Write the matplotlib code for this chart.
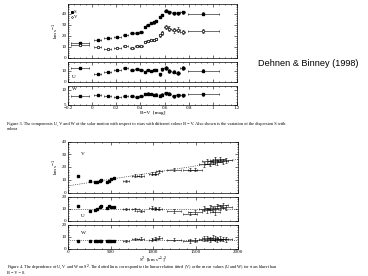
import numpy as np
import matplotlib.pyplot as plt
from matplotlib.ticker import MultipleLocator, FuncFormatter

plt.rcParams['font.family'] = ['Liberation Serif', 'DejaVu Serif']

# Figure 3 data: colour bins
bv = [-0.1, 0.045, 0.128, 0.21, 0.275, 0.33, 0.37, 0.405, 0.44, 0.46, 0.49,
      0.51, 0.53, 0.56, 0.58, 0.61, 0.64, 0.675, 0.71, 0.75, 0.92]
bv_err = [0.075, 0.03, 0.03, 0.025, 0.02, 0.02, 0.015, 0.015, 0.01, 0.01, 0.01,
          0.01, 0.01, 0.01, 0.01, 0.015, 0.015, 0.015, 0.015, 0.02, 0.13]
S = [13.3, 15.8, 17.9, 18.8, 20.3, 22.4, 22.7, 23.3, 27.9, 29.7, 31.8,
     32.1, 33.3, 37.0, 39.0, 43.0, 41.5, 40.6, 40.6, 41.5, 40.0]
V = [11.0, 9.7, 7.9, 9.1, 10.3, 8.8, 10.3, 10.9, 14.2, 15.2, 15.8,
     16.4, 17.3, 20.3, 22.4, 27.9, 26.4, 24.8, 25.5, 23.3, 24.2]
U = [12.3, 7.4, 8.4, 10.6, 12.3, 10.6, 11.6, 10.6, 9.0, 10.6, 10.0,
     10.6, 10.6, 6.8, 11.3, 12.3, 9.7, 9.0, 8.1, 12.3, 10.0]
W = [8.0, 8.1, 7.8, 7.7, 7.9, 7.8, 7.7, 7.9, 8.5, 8.7, 8.5,
     8.2, 8.4, 8.0, 8.4, 8.9, 8.7, 7.9, 8.1, 8.2, 8.5]
S_err = [1.0, 0.8, 0.8, 0.8, 0.8, 0.9, 0.9, 1.0, 1.0, 1.0, 1.0,
         1.0, 1.0, 1.2, 1.2, 1.5, 1.5, 1.5, 1.5, 1.5, 1.5]
V_err = [0.8, 0.8, 0.8, 0.8, 0.8, 0.9, 0.9, 1.0, 1.0, 1.0, 1.0,
         1.0, 1.0, 1.2, 1.5, 2.0, 2.0, 2.0, 2.0, 2.0, 2.0]
U_err = [0.6, 0.6, 0.6, 0.8, 0.8, 0.8, 0.8, 0.9, 1.0, 1.0, 1.0,
         1.0, 1.0, 1.5, 1.5, 2.0, 1.5, 1.5, 1.8, 1.8, 1.5]
W_err = [0.3, 0.3, 0.3, 0.3, 0.3, 0.3, 0.3, 0.3, 0.4, 0.4, 0.4,
         0.4, 0.4, 0.5, 0.5, 0.5, 0.5, 0.5, 0.5, 0.5, 0.5]

# Figure 4 data: dispersion squared bins
s2 = [113, 256, 314, 345, 372, 392, 461, 481, 508, 539, 682, 791, 857, 992,
      1023, 1070, 1244, 1438, 1497, 1600, 1632, 1671, 1709, 1728, 1748, 1787, 1826, 1864]
s2_err = [0, 10, 10, 10, 10, 10, 10, 10, 10, 10, 40, 40, 40, 40,
          40, 40, 80, 80, 80, 60, 60, 60, 60, 60, 60, 60, 60, 60]
V4 = [13.3, 8.9, 8.1, 8.4, 8.9, 9.7, 8.4, 9.2, 10.2, 11.5, 8.9, 13.3, 13.3, 14.7,
      14.9, 16.5, 18.0, 18.0, 18.0, 22.0, 24.5, 22.7, 24.5, 25.5, 23.8, 25.9, 24.5, 25.3]
U4 = [11.9, 7.8, 8.6, 9.7, 11.1, 12.5, 10.6, 11.9, 11.1, 11.1, 9.7, 9.2, 7.8, 10.6,
      10.0, 10.0, 7.8, 5.8, 7.0, 9.9, 8.4, 10.7, 9.3, 7.0, 12.1, 10.7, 12.7, 11.0]
W4 = [7.0, 6.8, 6.6, 6.7, 6.8, 6.9, 6.7, 7.0, 6.8, 6.6, 6.5, 8.5, 8.7, 7.9,
      8.7, 9.3, 7.9, 6.5, 7.3, 8.5, 9.0, 7.9, 9.3, 8.5, 7.9, 8.7, 8.4, 8.0]
err4 = [0, 0.7, 0.7, 0.7, 0.7, 0.7, 0.7, 0.7, 0.7, 0.7, 1.0, 1.0, 1.0, 1.2,
        1.2, 1.2, 1.5, 1.5, 1.5, 2.0, 2.0, 2.0, 2.0, 2.0, 2.0, 2.0, 2.0, 2.0]
fit_x = [0, 2000]
fit_v = [5.2, 26.0]
mean_u = 10.0
mean_w = 7.2

W_PX, H_PX = 368, 276
fig = plt.figure(figsize=(3.68, 2.76), dpi=100)


def box(x0, x1, ytop, ybot):
    # pixel box -> figure axes
    return fig.add_axes([x0 / W_PX, 1 - ybot / H_PX, (x1 - x0) / W_PX, (ybot - ytop) / H_PX])


def style_ax(ax, ymaj, ymin, show_x=False):
    for s in ax.spines.values():
        s.set_linewidth(0.5)
    ax.tick_params(which='both', direction='in', top=True, right=True,
                   width=0.4, labelsize=3.6, pad=1)
    ax.tick_params(which='major', length=2)
    ax.tick_params(which='minor', length=1)
    ax.yaxis.set_major_locator(MultipleLocator(ymaj))
    ax.yaxis.set_minor_locator(MultipleLocator(ymin))
    if not show_x:
        ax.tick_params(labelbottom=False)


def bv_fmt(v, pos):
    if abs(v) < 1e-9:
        return '0'
    if abs(v - 1) < 1e-9:
        return '1'
    return ('%.1f' % v).replace('-', '\u2212')


eb = dict(fmt='none', ecolor='k', elinewidth=0.4, capsize=0.8, capthick=0.4)

# ---- Figure 3 ----
x0, x1 = 68, 237
a1 = box(x0, x1, 4, 57.5)
a2 = box(x0, x1, 61.5, 81.5)
a3 = box(x0, x1, 86, 105)
for ax in (a1, a2, a3):
    ax.set_xlim(-0.2, 1.2)
    ax.xaxis.set_major_locator(MultipleLocator(0.2))
    ax.xaxis.set_minor_locator(MultipleLocator(0.05))

a1.errorbar(bv, S, xerr=bv_err, yerr=S_err, **eb)
a1.plot(bv, S, 's', ms=1.8, color='k')
a1.errorbar(bv, V, xerr=bv_err, yerr=V_err, **eb)
a1.plot(bv, V, 'o', ms=1.8, mfc='white', mec='k', mew=0.5)
a1.set_ylim(0, 49)
style_ax(a1, 10, 2)
a1.set_ylabel('km s$^{-1}$', fontsize=3.6, labelpad=1)
a1.plot(-0.17, 41.5, 's', ms=1.2, color='k')
a1.text(-0.15, 41.5, 'S', fontsize=3.4, va='center')
a1.plot(-0.17, 37.5, 'o', ms=1.2, mfc='white', mec='k', mew=0.4)
a1.text(-0.15, 37.5, 'V', fontsize=3.4, va='center')

a2.errorbar(bv, U, xerr=bv_err, yerr=U_err, **eb)
a2.plot(bv, U, 's', ms=1.8, color='k')
a2.set_ylim(0, 18.5)
style_ax(a2, 10, 2)
a2.text(-0.17, 3, 'U', fontsize=3.8)

a3.errorbar(bv, W, xerr=bv_err, yerr=W_err, **eb)
a3.plot(bv, W, 's', ms=1.8, color='k')
a3.set_ylim(5, 11.2)
style_ax(a3, 5, 1, show_x=True)
a3.text(-0.17, 10.0, 'W', fontsize=3.8)
a3.xaxis.set_major_formatter(FuncFormatter(bv_fmt))
a3.set_xlabel('B\u2212V  [mag]', fontsize=3.8, labelpad=0.5)

fig.text(7 / W_PX, 1 - 124 / H_PX,
         'Figure 3. The components U, V and W of the solar motion with respect to stars with different colour B \u2212 V. '
         'Also shown is the variation of the dispersion S with',
         fontsize=3.2, va='center')
fig.text(7 / W_PX, 1 - 129 / H_PX, 'colour', fontsize=3.2, va='center')

fig.text(308 / W_PX, 1 - 63 / H_PX, 'Dehnen & Binney (1998)', family='Liberation Sans',
         fontsize=6.6, ha='center', va='center')

# ---- Figure 4 ----
x0, x1 = 68, 238
b1 = box(x0, x1, 141.5, 192.5)
b2 = box(x0, x1, 196.5, 220.5)
b3 = box(x0, x1, 225, 249)
for ax in (b1, b2, b3):
    ax.set_xlim(0, 2000)
    ax.xaxis.set_major_locator(MultipleLocator(500))
    ax.xaxis.set_minor_locator(MultipleLocator(100))

b1.errorbar(s2[1:], V4[1:], xerr=s2_err[1:], yerr=err4[1:], **eb)
b1.plot(s2[:10], V4[:10], 's', ms=1.8, color='k')
b1.plot(fit_x, fit_v, ':', color='k', lw=0.5)
b1.set_ylim(0, 40)
style_ax(b1, 10, 2)
b1.set_ylabel('km s$^{-1}$', fontsize=3.6, labelpad=1)
b1.text(150, 30, 'V', fontsize=3.8, va='center')

b2.errorbar(s2[1:], U4[1:], xerr=s2_err[1:], yerr=err4[1:], **eb)
b2.plot(s2[:10], U4[:10], 's', ms=1.8, color='k')
b2.axhline(mean_u, ls=':', color='k', lw=0.5)
b2.set_ylim(0, 20)
style_ax(b2, 10, 2)
b2.text(150, 4, 'U', fontsize=3.8, va='center')

b3.errorbar(s2[1:], W4[1:], xerr=s2_err[1:], yerr=err4[1:], **eb)
b3.plot(s2[:10], W4[:10], 's', ms=1.8, color='k')
b3.axhline(mean_w, ls=':', color='k', lw=0.5)
b3.set_ylim(0, 20)
style_ax(b3, 10, 2, show_x=True)
b3.text(150, 13, 'W', fontsize=3.8, va='center')
b3.set_xlabel('S$^2$  [km s$^{-1}$]$^2$', fontsize=3.4, labelpad=0)

fig.text(7 / W_PX, 1 - 267.5 / H_PX,
         'Figure 4. The dependence of U, V and W on S$^2$. The dotted lines correspond to the linear relation fitted (V) '
         'or the mean values (U and W) for stars bluer than',
         fontsize=3.1, va='center')
fig.text(7 / W_PX, 1 - 273 / H_PX, 'B \u2212 V = 0.', fontsize=3.1, va='center')

fig.savefig('out.png', dpi=100)
